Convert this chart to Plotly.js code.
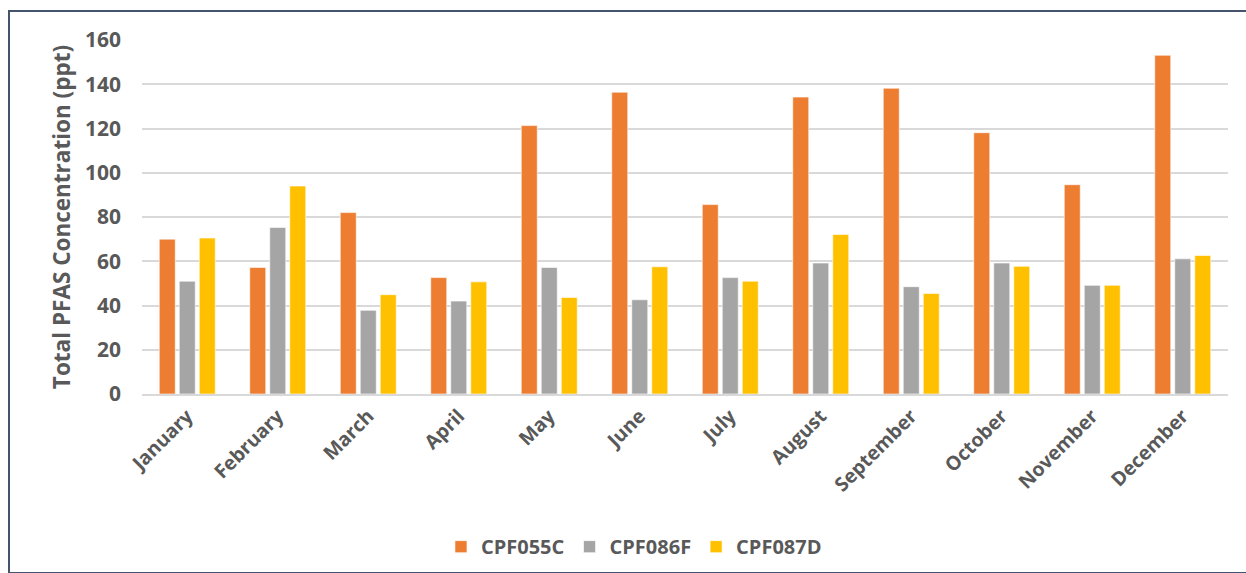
<!DOCTYPE html>
<html>
<head>
<meta charset="utf-8">
<script src="https://cdn.plot.ly/plotly-3.0.1.min.js"></script>
<style>
  html, body { margin: 0; padding: 0; background: #ffffff; }
  #chart { position: absolute; left: 0; top: 0; width: 1246px; height: 573px; }
  #frame { position: absolute; left: 8px; top: 10px; width: 1250px; height: 560px;
           border: 2px solid #44546A; pointer-events: none; }
</style>
</head>
<body>
<div id="chart"></div>
<div id="frame"></div>
<script>
const months = ["January","February","March","April","May","June","July","August","September","October","November","December"];
const seriesNames = ["CPF055C","CPF086F","CPF087D"];
const cpf055c = [70.0, 57.2, 82.0, 52.6, 121.3, 136.4, 85.6, 134.2, 138.2, 118.1, 94.6, 153.1];
const cpf086f = [51.0, 75.3, 37.8, 42.0, 57.2, 42.6, 52.6, 59.2, 48.5, 59.2, 49.1, 61.1];
const cpf087d = [70.5, 94.0, 44.9, 50.7, 43.6, 57.5, 51.0, 72.1, 45.4, 57.7, 49.1, 62.6];
const colors = ["#ED7D31","#A5A5A5","#FFC000"];
const yTicks = [0,20,40,60,80,100,120,140,160];

const fontFam = "'Open Sans', 'DejaVu Sans', sans-serif";
const textColor = "#595959";

const data = [cpf055c, cpf086f, cpf087d].map((vals, i) => ({
  type: "bar",
  name: seriesNames[i],
  x: months,
  y: vals,
  marker: { color: colors[i], line: { color: "rgba(255,255,255,0.6)", width: 1 } },
  hoverinfo: "x+y+name"
}));

const layout = {
  width: 1246,
  height: 573,
  margin: { l: 142, r: 18, t: 40, b: 179 },
  paper_bgcolor: "rgba(0,0,0,0)",
  plot_bgcolor: "#ffffff",
  barmode: "group",
  bargap: 0.337,
  bargroupgap: 0.2,
  font: { family: fontFam, color: textColor },
  showlegend: true,
  legend: {
    orientation: "h",
    xref: "paper",
    x: 0.453, xanchor: "center",
    yref: "container",
    y: 0.046, yanchor: "middle",
    font: { family: fontFam, size: 20, color: textColor, weight: "bold" },
    itemwidth: 30,
    traceorder: "normal"
  },
  xaxis: {
    type: "category",
    tickangle: -45,
    tickfont: { family: fontFam, size: 19.5, color: textColor, weight: "bold" },
    showgrid: false,
    showline: true,
    linecolor: "#d9d9d9",
    linewidth: 2,
    ticks: "",
    ticklabelstandoff: 1,
    zeroline: false,
    automargin: false
  },
  yaxis: {
    range: [0, 160],
    tickvals: yTicks,
    ticktext: yTicks.map(String),
    tickfont: { family: fontFam, size: 21, color: textColor, weight: "bold" },
    showgrid: true,
    gridcolor: "#d9d9d9",
    gridwidth: 2,
    zeroline: false,
    showline: false,
    ticks: "",
    ticklabelstandoff: 20,
    title: {
      text: "Total PFAS Concentration (ppt)",
      font: { family: fontFam, size: 22.5, color: textColor, weight: "bold" },
      standoff: 8
    }
  }
};

Plotly.newPlot("chart", data, layout, { displayModeBar: false, staticPlot: true });
</script>
</body>
</html>
